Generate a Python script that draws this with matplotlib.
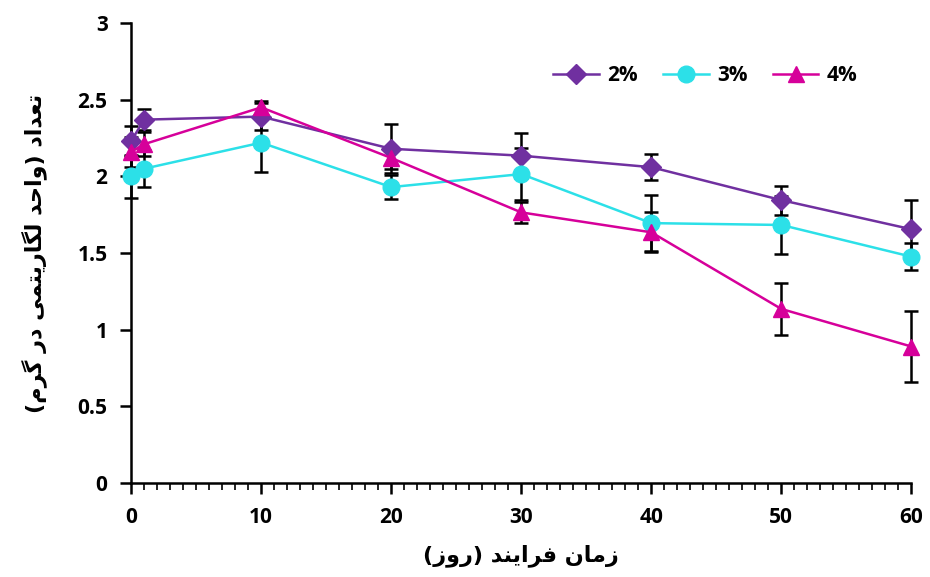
import numpy as np
import matplotlib
matplotlib.use("Agg")
import matplotlib.pyplot as plt
from matplotlib.ticker import MultipleLocator

days = [0, 1, 10, 20, 30, 40, 50, 60]
labels = ["2%", "3%", "4%"]

v2 = [2.23, 2.37, 2.39, 2.18, 2.135, 2.06, 1.845, 1.655]
e2 = [0.10, 0.07, 0.09, 0.16, 0.145, 0.085, 0.095, 0.19]
v3 = [2.00, 2.05, 2.22, 1.93, 2.015, 1.695, 1.683, 1.476]
e3 = [0.14, 0.12, 0.19, 0.08, 0.17, 0.185, 0.19, 0.09]
v4 = [2.16, 2.21, 2.45, 2.12, 1.765, 1.635, 1.135, 0.89]
e4 = [0.10, 0.08, 0.04, 0.07, 0.07, 0.13, 0.17, 0.23]

xlabel_fa = "زمان فرایند (روز)"
ylabel_fa = "تعداد (واحد لگاریتمی در گرم)"

colors = ["#7030A0", "#2CE0E8", "#D6009A"]
markers = ["D", "o", "^"]
msizes = [10, 12, 12]

# matplotlib does no arabic shaping, so pick presentation forms by hand
FORMS = {
    "ت": ("\uFE95", "\uFE96", "\uFE97", "\uFE98"),
    "ع": ("\uFEC9", "\uFECA", "\uFECB", "\uFECC"),
    "ح": ("\uFEA1", "\uFEA2", "\uFEA3", "\uFEA4"),
    "ل": ("\uFEDD", "\uFEDE", "\uFEDF", "\uFEE0"),
    "گ": ("\uFB92", "\uFB93", "\uFB94", "\uFB95"),
    "ی": ("\uFBFC", "\uFBFD", "\uFBFE", "\uFBFF"),
    "م": ("\uFEE1", "\uFEE2", "\uFEE3", "\uFEE4"),
    "ن": ("\uFEE5", "\uFEE6", "\uFEE7", "\uFEE8"),
    "ف": ("\uFED1", "\uFED2", "\uFED3", "\uFED4"),
    "ا": ("\uFE8D", "\uFE8E"),
    "د": ("\uFEA9", "\uFEAA"),
    "ر": ("\uFEAD", "\uFEAE"),
    "ز": ("\uFEAF", "\uFEB0"),
    "و": ("\uFEED", "\uFEEE"),
}


def shape(s):
    out = []
    for i, c in enumerate(s):
        if c not in FORMS:
            out.append(c)
            continue
        f = FORMS[c]
        prev = s[i - 1] if i > 0 else ""
        nxt = s[i + 1] if i + 1 < len(s) else ""
        pj = prev in FORMS and len(FORMS[prev]) == 4
        nj = len(f) == 4 and nxt in FORMS
        if pj and nj:
            out.append(f[3])
        elif pj:
            out.append(f[1])
        elif nj:
            out.append(f[2])
        else:
            out.append(f[0])
    vis = "".join(out)[::-1]
    return vis.translate(str.maketrans("()", ")("))


plt.rcParams["font.family"] = ["Open Sans", "DejaVu Sans"]
plt.rcParams["font.weight"] = "bold"

fig = plt.figure(figsize=(9.3, 5.77), dpi=100)
ax = fig.add_axes([0.141, 0.163, 0.839, 0.797])

for v, e, lab, c, m, ms in zip([v2, v3, v4], [e2, e3, e4], labels, colors, markers, msizes):
    eb = ax.errorbar(days, v, yerr=e, fmt="none", ecolor="black", elinewidth=1.8,
                     capsize=5, capthick=1.8, zorder=2)
    for art in eb.lines[1] + eb.lines[2]:
        art.set_clip_on(False)
    ax.plot(days, v, color=c, marker=m, markersize=ms, linewidth=1.8,
            label=lab, zorder=3, clip_on=False)

ax.set_xlim(0, 60)
ax.set_ylim(0, 3)
ax.xaxis.set_major_locator(MultipleLocator(10))
ax.xaxis.set_minor_locator(MultipleLocator(1))
ax.set_yticks(np.arange(0, 3.01, 0.5))
ax.set_yticklabels(["0", "0.5", "1", "1.5", "2", "2.5", "3"])
for s in ["top", "right"]:
    ax.spines[s].set_visible(False)
for s in ["left", "bottom"]:
    ax.spines[s].set_linewidth(1.8)
ax.tick_params(axis="both", which="major", direction="out", length=8, width=1.8,
               labelsize=15, pad=9)
ax.tick_params(axis="x", which="minor", direction="out", length=5, width=1.2)
for t in ax.get_xticklabels() + ax.get_yticklabels():
    t.set_fontweight("bold")

ax.set_xlabel(shape(xlabel_fa), fontsize=16, fontweight="bold", labelpad=12,
              family=["DejaVu Sans"])
ax.set_ylabel(shape(ylabel_fa), fontsize=16, fontweight="bold", labelpad=22,
              family=["DejaVu Sans"])

ax.legend(loc="upper right", bbox_to_anchor=(0.955, 0.95), ncol=3, frameon=False,
          prop={"size": 15, "weight": "bold"}, handlelength=2.2, columnspacing=1.2,
          handletextpad=0.4)

fig.savefig("out.png", dpi=100)
